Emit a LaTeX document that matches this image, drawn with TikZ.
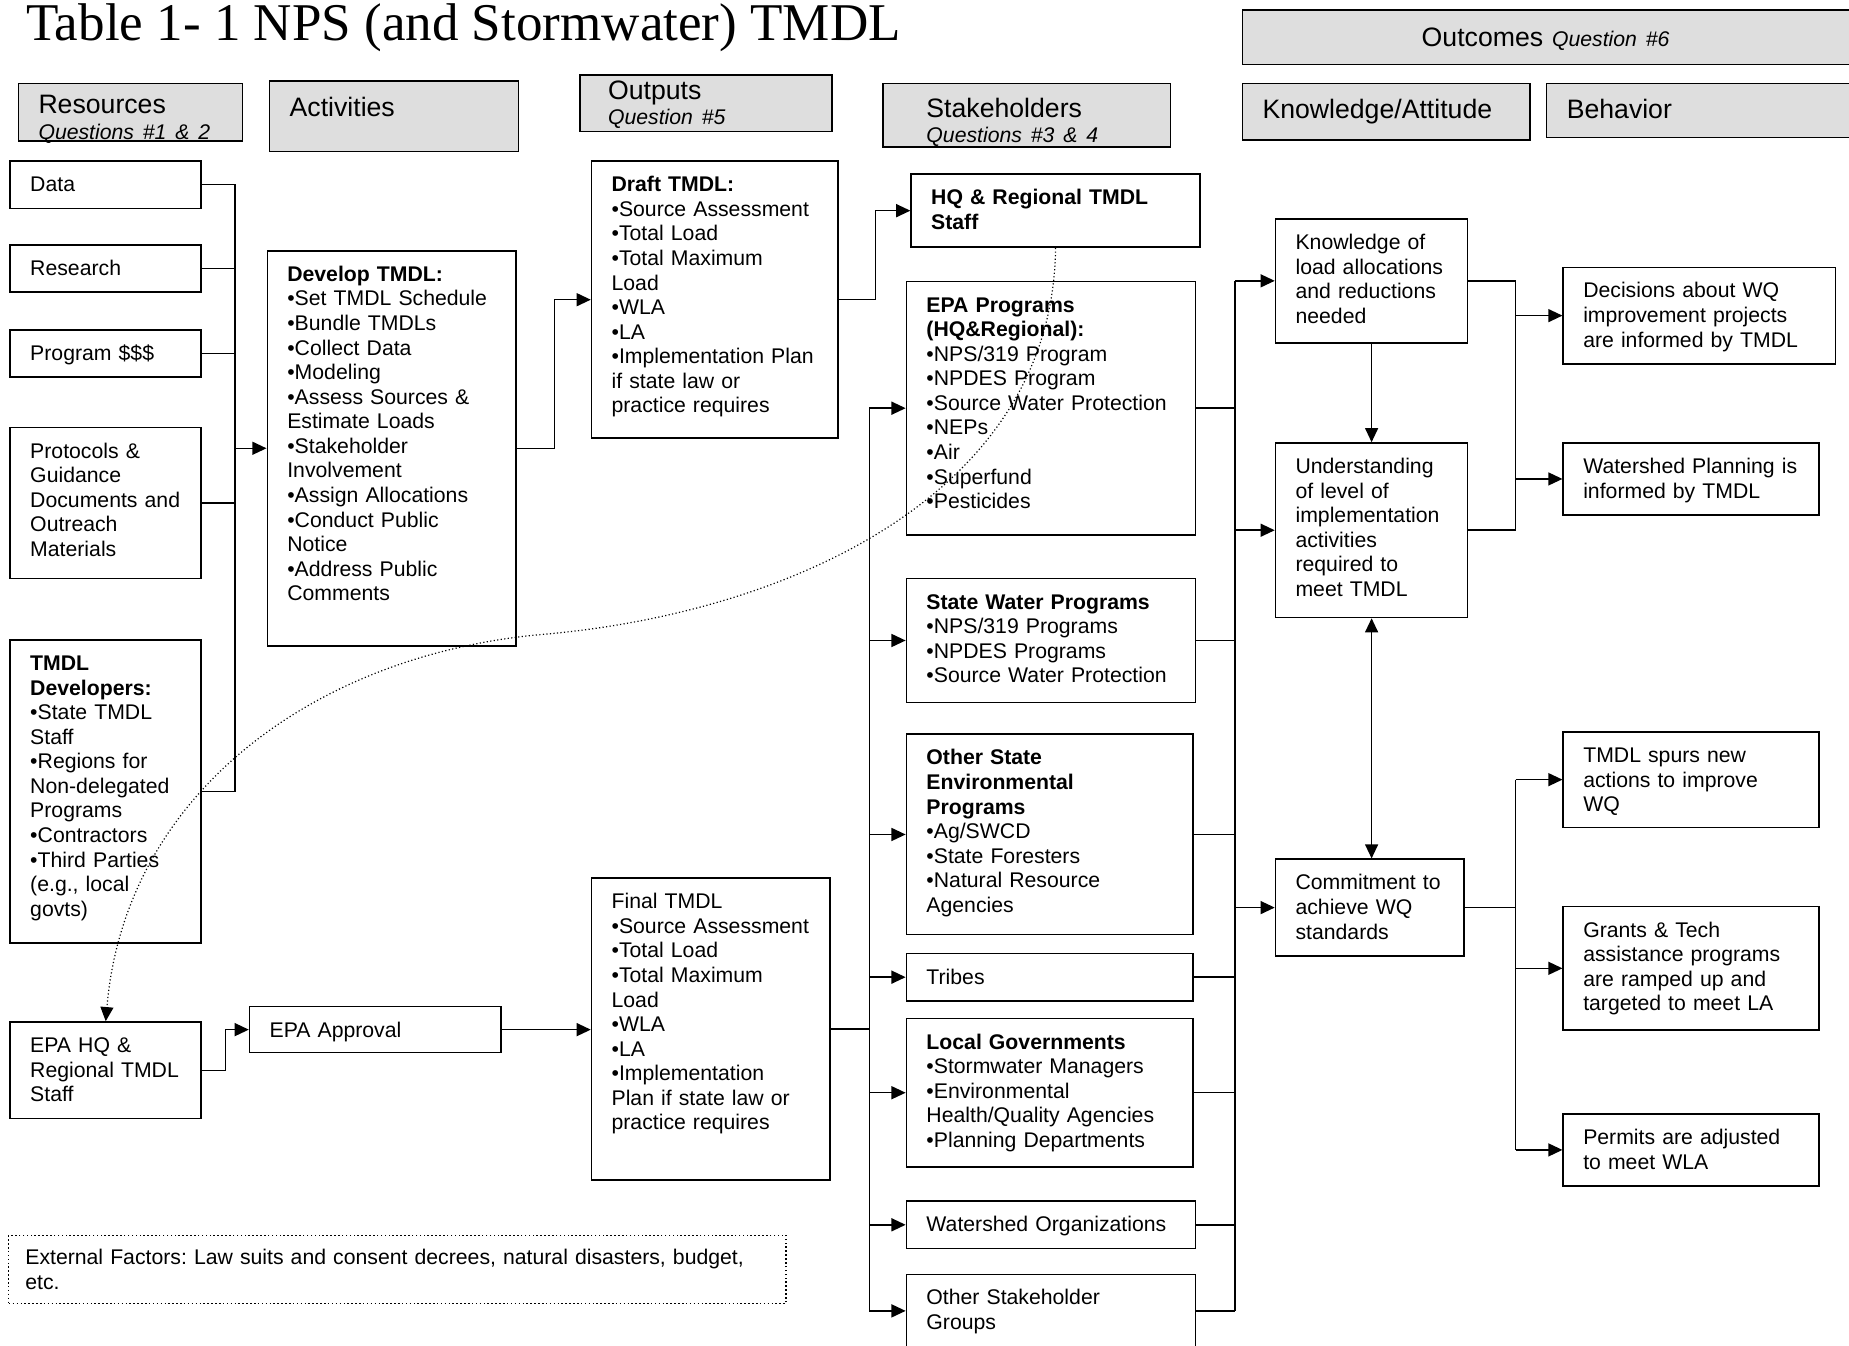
\documentclass[tikz,border=0pt]{standalone}
\usepackage{fontspec}
\setmainfont{Liberation Sans}
\newfontfamily\ttlserif{Liberation Serif}
\usetikzlibrary{arrows.meta}

\definecolor{headgray}{gray}{0.87}
\newcommand\txtfont{\fontsize{18}{20.83}\selectfont}
\newcommand\hdfont{\fontsize{22.6}{21.3}\selectfont}
\newcommand\qfont{\fontsize{18}{21.3}\selectfont\itshape}
\newcommand\ttlfont{\ttlserif\fontsize{45}{50}\selectfont}

\tikzset{
  box/.style={draw, line width=1.3pt, anchor=north west, align=left,
    inner xsep=17pt, inner ysep=0pt, font=\txtfont,
    execute at begin node={\frenchspacing\rightskip=0pt plus 1fil minus 1000pt}},
  boxdim/.code n args={3}{%
    \pgfmathsetmacro\boxw{#1-34}\pgfmathsetmacro\boxd{#2-#3}%
    \edef\boxtmp{\noexpand\tikzset{text width=\boxw pt, text height=#3pt, text depth=\boxd pt}}\boxtmp},
  head/.style={box, fill=headgray, font=\hdfont},
  link/.style={line width=1.3pt},
  arr/.style={link, -{Triangle[length=12pt,width=11pt]}},
  twoway/.style={link, {Triangle[length=12pt,width=11pt]}-{Triangle[length=12pt,width=11pt]}},
  note/.style={line width=1pt, dotted, -{Triangle[length=12pt,width=11pt]}},
}

\begin{document}
\begin{tikzpicture}[x=1pt, y=-1pt]
\useasboundingbox (0,0) rectangle (1568,1141);

% Title
\node[anchor=base west, inner sep=0pt, font=\ttlfont] (title) at (22,34) {Table 1- 1 NPS (and Stormwater) TMDL};

% Column heads
\node[head, boxdim={190}{49}{26}] (reshead) at (15,70) {Resources\\{\qfont Questions \#1 \& 2}};
\node[head, boxdim={211}{60}{30}] (acthead) at (228,68) {Activities};
\node[head, boxdim={214}{48}{21}] (outhead) at (491,63) {\hspace*{7pt}Outputs\\\hspace*{7pt}{\qfont Question \#5}};
\node[head, boxdim={244}{54}{29}] (stakehead) at (748,70) {\hspace*{20pt}Stakeholders\\\hspace*{20pt}{\qfont Questions \#3 \& 4}};
\node[head, boxdim={530}{46}{31}] (outchead) at (1053,8) {\hspace*{135pt}Outcomes {\qfont Question \#6}};
\node[head, boxdim={244}{48}{30}] (knowhead) at (1053,70) {Knowledge/Attitude};
\node[head, boxdim={272}{46}{30}] (behhead) at (1311,70) {Behavior};

% Resources
\node[box, boxdim={162}{40}{26}] (data) at (8,136) {Data};
\node[box, boxdim={162}{40}{26}] (research) at (8,207) {Research};
\node[box, boxdim={162}{40}{26}] (program) at (8,279) {Program \$\$\$};
\node[box, boxdim={162}{128}{26}] (protocols) at (8,362) {Protocols \&\\Guidance\\Documents and\\Outreach\\Materials};
\node[box, boxdim={162}{257}{26}] (developers) at (8,542) {\textbf{TMDL}\\\textbf{Developers:}\\•State TMDL\\Staff\\•Regions for\\Non-delegated\\Programs\\•Contractors\\•Third Parties\\(e.g., local\\govts)};
\node[box, boxdim={162}{82}{26}] (epahq) at (8,866) {EPA HQ \&\\Regional TMDL\\Staff};

% Activities
\node[box, boxdim={211}{335}{26}] (develop) at (226,212) {\textbf{Develop TMDL:}\\•Set TMDL Schedule\\•Bundle TMDLs\\•Collect Data\\•Modeling\\•Assess Sources \&\\Estimate Loads\\•Stakeholder\\Involvement\\•Assign Allocations\\•Conduct Public\\Notice\\•Address Public\\Comments};
\node[box, boxdim={213}{39}{26}] (approval) at (211,853) {EPA Approval};

% Outputs
\node[box, boxdim={209}{235}{26}] (draft) at (501,136) {\textbf{Draft TMDL:}\\•Source Assessment\\•Total Load\\•Total Maximum\\Load\\•WLA\\•LA\\•Implementation Plan\\if state law or\\practice requires};
\node[box, boxdim={202}{256}{26}] (final) at (501,744) {Final TMDL\\•Source Assessment\\•Total Load\\•Total Maximum\\Load\\•WLA\\•LA\\•Implementation\\Plan if state law or\\practice requires};

% Stakeholders
\node[box, boxdim={245}{62}{26}] (hq) at (772,147) {\textbf{HQ \& Regional TMDL}\\\textbf{Staff}};
\node[box, boxdim={245}{215}{26}] (epa) at (768,238) {\textbf{EPA Programs}\\\textbf{(HQ\&Regional):}\\•NPS/319 Program\\•NPDES Program\\•Source Water Protection\\•NEPs\\•Air\\•Superfund\\•Pesticides};
\node[box, boxdim={245}{105}{26}] (statewater) at (768,490) {\textbf{State Water Programs}\\•NPS/319 Programs\\•NPDES Programs\\•Source Water Protection};
\node[box, boxdim={243}{170}{26}] (otherstate) at (768,622) {\textbf{Other State}\\\textbf{Environmental}\\\textbf{Programs}\\•Ag/SWCD\\•State Foresters\\•Natural Resource\\Agencies};
\node[box, boxdim={243}{40}{26}] (tribes) at (768,808) {Tribes};
\node[box, boxdim={243}{126}{26}] (localgov) at (768,863) {\textbf{Local Governments}\\•Stormwater Managers\\•Environmental\\Health/Quality Agencies\\•Planning Departments};
\node[box, boxdim={245}{40}{26}] (wsorg) at (768,1018) {Watershed Organizations};
\node[box, boxdim={245}{62}{26}] (otherstake) at (768,1080) {Other Stakeholder\\Groups};

% Knowledge / attitude
\node[box, boxdim={163}{105}{26}] (knowledge) at (1081,185) {Knowledge of\\load allocations\\and reductions\\needed};
\node[box, boxdim={163}{148}{26}] (understanding) at (1081,375) {Understanding\\of level of\\implementation\\activities\\required to\\meet TMDL};
\node[box, boxdim={160}{82}{26}] (commitment) at (1081,728) {Commitment to\\achieve WQ\\standards};

% Behavior
\node[box, boxdim={231}{82}{26}] (decisions) at (1325,226) {Decisions about WQ\\improvement projects\\are informed by TMDL};
\node[box, boxdim={217}{61}{26}] (wsplan) at (1325,375) {Watershed Planning is\\informed by TMDL};
\node[box, boxdim={217}{81}{26}] (spurs) at (1325,620) {TMDL spurs new\\actions to improve\\WQ};
\node[box, boxdim={217}{105}{26}] (grants) at (1325,768) {Grants \& Tech\\assistance programs\\are ramped up and\\targeted to meet LA};
\node[box, boxdim={217}{61}{26}] (permits) at (1325,944) {Permits are adjusted\\to meet WLA};

% External factors
\node[box, dotted, line width=1pt, inner xsep=14pt, text width=631pt, text height=25pt, text depth=33pt] (external) at (7,1047) {External Factors: Law suits and consent decrees, natural disasters, budget,\\etc.};

% Resources into Develop TMDL
\coordinate (rbus) at ([xshift=28pt]data.east);
\draw[link] (data.east) -- (rbus) |- (developers.east);
\foreach \n in {research,program,protocols} \draw[link] (\n.east) -- (\n.east -| rbus);
\draw[arr] (rbus |- develop.west) -- (develop.west);

% Develop -> Draft -> HQ staff
\draw[arr] (develop.east) -- ++(32,0) |- (draft.west);
\draw[arr] (draft.east) -- ++(31,0) |- (hq.west);

% Approval path
\draw[arr] (epahq.east) -- ++(20,0) |- (approval.west);
\draw[arr] (approval.east) -- (approval.east -| final.west);

% Final TMDL to stakeholders
\coordinate (sbus) at ([xshift=33pt]final.east);
\draw[link] (final.east) -- (sbus);
\draw[link] (sbus |- epa.west) -- (sbus |- otherstake.west);
\foreach \n in {epa,statewater,otherstate,tribes,localgov,wsorg,otherstake}
  \draw[arr] (sbus |- \n.west) -- (\n.west);

% Stakeholders to knowledge/attitude
\coordinate (obus) at ([xshift=33pt]epa.east);
\foreach \n in {epa,statewater,otherstate,tribes,localgov,wsorg,otherstake}
  \draw[link] (\n.east) -- (\n.east -| obus);
\draw[link] (obus |- knowledge.west) -- (obus |- otherstake.east);
\foreach \n in {knowledge,understanding,commitment}
  \draw[arr] (obus |- \n.west) -- (\n.west);

% Between outcomes
\draw[arr] (knowledge) -- (understanding);
\draw[twoway] (understanding.south) -- (understanding.south |- commitment.north);

% Knowledge/attitude to behavior
\coordinate (kbus) at ([xshift=40pt]knowledge.east);
\draw[link] (knowledge.east) -- (kbus) |- (understanding.east);
\draw[arr] (kbus |- decisions.west) -- (decisions.west);
\draw[arr] (kbus |- wsplan.west) -- (wsplan.west);
\coordinate (cbus) at (kbus |- commitment.east);
\draw[link] (commitment.east) -- (cbus);
\draw[link] (cbus |- spurs.west) -- (cbus |- permits.west);
\foreach \n in {spurs,grants,permits} \draw[arr] (cbus |- \n.west) -- (\n.west);

% Review loop back to EPA staff
\draw[note] (hq.south) .. controls (893,419) and (669,520) .. (460,538) .. controls (267,555) and (106,673) .. (epahq.north);

\end{tikzpicture}
\end{document}
